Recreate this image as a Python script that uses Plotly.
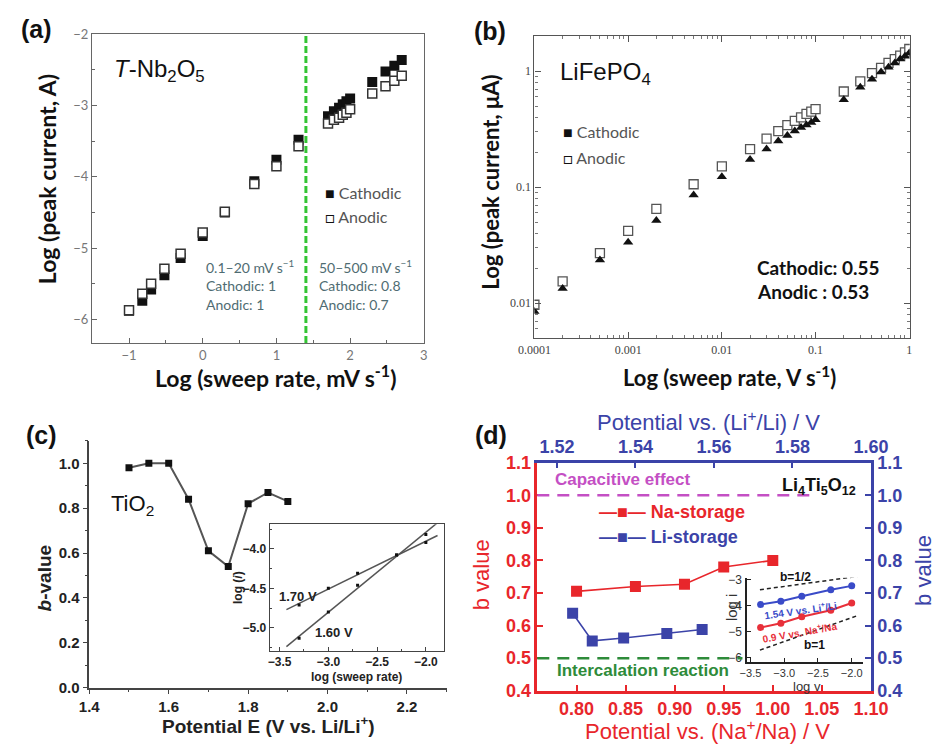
import numpy as np
import plotly.graph_objects as go

W, H = 948, 753

# ---------------- (a) T-Nb2O5 ----------------
nb_log_rate = [-1.0, -0.82, -0.70, -0.52, -0.30, 0.0, 0.30, 0.70, 1.0, 1.30,
               1.70, 1.78, 1.85, 1.90, 1.95, 2.0, 2.30, 2.48, 2.60, 2.70]
nb_cathodic = [-5.88, -5.74, -5.58, -5.38, -5.14, -4.83, -4.50, -4.06, -3.76, -3.48,
               -3.15, -3.08, -3.03, -2.98, -2.94, -2.90, -2.67, -2.52, -2.44, -2.36]
nb_anodic = [-5.87, -5.64, -5.50, -5.29, -5.08, -4.78, -4.49, -4.10, -3.85, -3.57,
             -3.25, -3.20, -3.17, -3.13, -3.10, -3.05, -2.83, -2.73, -2.65, -2.58]
nb_boundary = 1.4  # log10(25 mV/s)

# ---------------- (b) LiFePO4 ----------------
lfp_rate = [0.0001, 0.0002, 0.0005, 0.001, 0.002, 0.005, 0.01, 0.02, 0.03, 0.04,
            0.05, 0.06, 0.07, 0.08, 0.09, 0.1, 0.2, 0.3, 0.4, 0.5, 0.6, 0.7, 0.8, 0.9, 1.0]
lfp_cathodic = [0.0085, 0.0134, 0.0236, 0.0336, 0.0517, 0.0854, 0.123, 0.173, 0.213, 0.25,
                0.279, 0.304, 0.326, 0.343, 0.361, 0.38, 0.567, 0.725, 0.851, 0.98,
                1.08, 1.175, 1.27, 1.345, 1.43]
lfp_anodic = [0.0097, 0.0154, 0.027, 0.042, 0.065, 0.106, 0.151, 0.213, 0.262, 0.304,
              0.343, 0.373, 0.40, 0.428, 0.447, 0.471, 0.667, 0.814, 0.962, 1.067,
              1.175, 1.27, 1.36, 1.45, 1.55]

# ---------------- (c) TiO2 ----------------
tio2_potential = [1.50, 1.55, 1.60, 1.65, 1.70, 1.75, 1.80, 1.85, 1.90]
tio2_b = [0.98, 1.00, 1.00, 0.84, 0.61, 0.54, 0.82, 0.87, 0.83]
tio2_log_rate = [-3.3, -3.0, -2.7, -2.3, -2.0]
tio2_log_i_170 = [-4.71, -4.50, -4.31, -4.08, -3.92]
tio2_log_i_160 = [-5.13, -4.80, -4.46, -4.08, -3.82]
tio2_fit_span = [-3.43, -1.88]

# ---------------- (d) Li4Ti5O12 ----------------
na_potential = [0.80, 0.86, 0.91, 0.95, 1.00]
na_b = [0.705, 0.72, 0.727, 0.78, 0.80]
li_potential = [1.524, 1.529, 1.537, 1.548, 1.557]
li_b = [0.638, 0.553, 0.562, 0.576, 0.588]
b_capacitive = 1.0
b_intercalation = 0.5
lto_log_v = [-3.35, -3.05, -2.74, -2.31, -2.0]
lto_li_log_i = [-3.97, -3.84, -3.65, -3.40, -3.25]
lto_na_log_i = [-4.85, -4.69, -4.44, -4.19, -3.91]
guide_x = [-3.36, -1.9]
guide_half_y = [-3.40, -2.88]
guide_one_y = [-5.72, -4.38]

RED = "#e8262b"
BLUE = "#3b43a8"
MAGENTA = "#c44fc4"
GREEN = "#2e8b3a"
ARIAL = "Arial, Liberation Sans, sans-serif"
LATO = "Lato, Open Sans, sans-serif"
SERIF = "Liberation Serif, Times New Roman, serif"


def dom_x(a, b):
    return [a / W, b / W]


def dom_y(top, bottom):
    return [1 - bottom / H, 1 - top / H]


def px(x):
    return x / W


def py(y):
    return 1 - y / H


fig = go.Figure()

# (a)
fig.add_trace(go.Scatter(x=nb_log_rate, y=nb_cathodic, mode="markers", xaxis="x", yaxis="y",
                         marker=dict(symbol="square", size=10, color="#111")))
fig.add_trace(go.Scatter(x=nb_log_rate, y=nb_anodic, mode="markers", xaxis="x", yaxis="y",
                         marker=dict(symbol="square", size=9, color="white",
                                     line=dict(color="#333", width=1.5))))

# (b)
fig.add_trace(go.Scatter(x=lfp_rate, y=lfp_anodic, mode="markers", xaxis="x2", yaxis="y2",
                         marker=dict(symbol="square", size=9, color="white",
                                     line=dict(color="#555", width=1.3))))
fig.add_trace(go.Scatter(x=lfp_rate, y=lfp_cathodic, mode="markers", xaxis="x2", yaxis="y2",
                         marker=dict(symbol="triangle-up", size=9, color="#111")))

# (c)
fig.add_trace(go.Scatter(x=tio2_potential, y=tio2_b, mode="lines+markers", xaxis="x3", yaxis="y3",
                         line=dict(color="#555", width=2),
                         marker=dict(symbol="square", size=7, color="#111")))
for series in (tio2_log_i_170, tio2_log_i_160):
    slope, icpt = np.polyfit(tio2_log_rate, series, 1)
    fx = np.array(tio2_fit_span)
    fig.add_trace(go.Scatter(x=fx, y=slope * fx + icpt, mode="lines", xaxis="x4", yaxis="y4",
                             line=dict(color="#555", width=1.5)))
    fig.add_trace(go.Scatter(x=tio2_log_rate, y=series, mode="markers", xaxis="x4", yaxis="y4",
                             marker=dict(symbol="square", size=3, color="#111")))

# (d)
fig.add_trace(go.Scatter(x=na_potential, y=na_b, mode="lines+markers", xaxis="x5", yaxis="y5",
                         line=dict(color=RED, width=1.6),
                         marker=dict(symbol="square", size=11, color=RED)))
fig.add_trace(go.Scatter(x=li_potential, y=li_b, mode="lines+markers", xaxis="x6", yaxis="y6",
                         line=dict(color=BLUE, width=1.6),
                         marker=dict(symbol="square", size=11, color=BLUE)))
for gy in (guide_half_y, guide_one_y):
    fig.add_trace(go.Scatter(x=guide_x, y=gy, mode="lines", xaxis="x7", yaxis="y7",
                             line=dict(color="#222", width=1.5, dash="4px,3px")))
fig.add_trace(go.Scatter(x=lto_log_v, y=lto_li_log_i, mode="lines+markers", xaxis="x7", yaxis="y7",
                         line=dict(color="#3a4bc8", width=2),
                         marker=dict(symbol="circle", size=7, color="#3a4bc8")))
fig.add_trace(go.Scatter(x=lto_log_v, y=lto_na_log_i, mode="lines+markers", xaxis="x7", yaxis="y7",
                         line=dict(color="#e8303a", width=2),
                         marker=dict(symbol="circle", size=7, color="#e8303a")))

common = dict(showgrid=False, zeroline=False)

layout_axes = dict(
    # (a)
    xaxis=dict(domain=dom_x(79, 423), range=[-1.5, 3], anchor="y", dtick=1, tick0=0,
               showline=True, linecolor="#666", linewidth=1.3, mirror=True,
               ticks="inside", ticklen=5, tickcolor="#666",
               minor=dict(ticks="inside", dtick=0.5, ticklen=3, tickcolor="#666"),
               tickfont=dict(family=LATO, size=13, color="#777"), **common),
    yaxis=dict(domain=dom_y(25, 342), range=[-6.33, -2], anchor="x", dtick=1, tick0=0,
               showline=True, linecolor="#666", linewidth=1.3, mirror=True,
               ticks="inside", ticklen=5, tickcolor="#666",
               minor=dict(ticks="inside", dtick=0.5, ticklen=3, tickcolor="#666"),
               tickfont=dict(family=LATO, size=13, color="#777"), **common),
    # (b)
    xaxis2=dict(type="log", domain=dom_x(537.7, 927), range=[-4, 0.005], anchor="y2",
                tickvals=[1e-4, 1e-3, 1e-2, 1e-1, 1],
                ticktext=["0.0001", "0.001", "0.01", "0.1", "1"],
                showline=True, linecolor="#555", linewidth=1.2, mirror="allticks",
                ticks="inside", ticklen=6, tickcolor="#555",
                minor=dict(ticks="inside", ticklen=3, tickcolor="#777",
                           tickvals=[k * 10.0 ** e for e in range(-4, 0) for k in range(2, 10)]),
                tickfont=dict(family=SERIF, size=12, color="#444"), **common),
    yaxis2=dict(type="log", domain=dom_y(27, 337), range=[-2.3, 0.3], anchor="x2",
                tickvals=[0.01, 0.1, 1], ticktext=["0.01", "0.1", "1"],
                showline=True, linecolor="#555", linewidth=1.2, mirror="allticks",
                ticks="inside", ticklen=6, tickcolor="#555",
                minor=dict(ticks="inside", ticklen=3, tickcolor="#777",
                           tickvals=[k * 10.0 ** e for e in range(-3, 1) for k in range(2, 10)]),
                tickfont=dict(family=SERIF, size=12, color="#444"), **common),
    # (c)
    xaxis3=dict(domain=dom_x(76, 446.7), range=[1.4, 2.3], anchor="y3", dtick=0.2, tick0=0,
                tickformat=".1f", showline=True, linecolor="#444", linewidth=1.5,
                ticks="outside", ticklen=5, tickcolor="#444",
                minor=dict(ticks="outside", dtick=0.1, ticklen=3, tickcolor="#444"),
                tickfont=dict(family=ARIAL, size=15, color="#222", weight="bold"), **common),
    yaxis3=dict(domain=dom_y(442.7, 696), range=[0, 1.1], anchor="x3", dtick=0.2, tick0=0,
                tickformat=".1f", showline=True, linecolor="#444", linewidth=1.5,
                ticks="outside", ticklen=5, tickcolor="#444",
                minor=dict(ticks="outside", dtick=0.1, ticklen=3, tickcolor="#444"),
                tickfont=dict(family=ARIAL, size=15, color="#222", weight="bold"), **common),
    xaxis4=dict(domain=dom_x(263.3, 444.3), range=[-3.6, -1.81], anchor="y4", dtick=0.5, tick0=0,
                tickformat=".1f", showline=True, linecolor="#444", linewidth=1.3, mirror=True,
                ticks="inside", ticklen=4, tickcolor="#444",
                minor=dict(ticks="inside", dtick=0.25, ticklen=2, tickcolor="#444"),
                tickfont=dict(family=ARIAL, size=12, color="#222", weight="bold"), **common),
    yaxis4=dict(domain=dom_y(528.3, 658.3), range=[-5.29, -3.69], anchor="x4", dtick=0.5, tick0=0,
                tickformat=".1f", showline=True, linecolor="#444", linewidth=1.3, mirror=True,
                ticks="inside", ticklen=4, tickcolor="#444",
                minor=dict(ticks="inside", dtick=0.25, ticklen=2, tickcolor="#444"),
                tickfont=dict(family=ARIAL, size=12, color="#222", weight="bold"), **common),
    # (d)
    xaxis5=dict(domain=dom_x(540.7, 886.7), range=[0.76, 1.10], anchor="y5", dtick=0.05, tick0=0,
                tickformat=".2f", showline=True, linecolor=RED, linewidth=2.5,
                ticks="inside", ticklen=6, tickcolor=RED, tickwidth=2,
                tickfont=dict(family=ARIAL, size=18, color=RED, weight="bold"), **common),
    yaxis5=dict(domain=dom_y(465, 699.3), range=[0.4, 1.1], anchor="x5", dtick=0.1, tick0=0,
                tickformat=".1f", showline=True, linecolor=RED, linewidth=2.5,
                ticks="inside", ticklen=6, tickcolor=RED, tickwidth=2,
                tickfont=dict(family=ARIAL, size=18, color=RED, weight="bold"), **common),
    xaxis6=dict(overlaying="x5", side="top", anchor="y5", range=[1.515, 1.60], dtick=0.02, tick0=0,
                tickformat=".2f", showline=True, linecolor=BLUE, linewidth=2.5,
                ticks="inside", ticklen=6, tickcolor=BLUE, tickwidth=2,
                tickfont=dict(family=ARIAL, size=18, color=BLUE, weight="bold"), **common),
    yaxis6=dict(overlaying="y5", side="right", anchor="x5", range=[0.4, 1.1], dtick=0.1, tick0=0,
                tickformat=".1f", showline=True, linecolor=BLUE, linewidth=2.5,
                ticks="inside", ticklen=6, tickcolor=BLUE, tickwidth=2,
                tickfont=dict(family=ARIAL, size=18, color=BLUE, weight="bold"), **common),
    xaxis7=dict(domain=dom_x(758.3, 878), range=[-3.55, -1.84], anchor="y7", dtick=0.5, tick0=0,
                tickformat=".1f", showline=True, linecolor="#222", linewidth=1.5,
                ticks="inside", ticklen=4, tickcolor="#222", ticklabelstandoff=1,
                tickfont=dict(family=ARIAL, size=11, color="#333"), **common),
    yaxis7=dict(domain=dom_y(583.3, 669.3), range=[-6.16, -2.94], anchor="x7", dtick=1, tick0=0,
                showline=True, linecolor="#222", linewidth=1.5,
                ticks="inside", ticklen=4, tickcolor="#222", ticklabelstandoff=1,
                tickfont=dict(family=ARIAL, size=12, color="#333"), **common),
)

shapes = [
    dict(type="line", xref="x", yref="y domain", x0=nb_boundary, x1=nb_boundary, y0=0, y1=1,
         line=dict(color="#33c433", width=3, dash="7px,3px")),
    dict(type="line", xref="x5 domain", yref="y5", x0=0, x1=0.83, y0=b_capacitive, y1=b_capacitive,
         line=dict(color=MAGENTA, width=2.5, dash="12px,8px")),
    dict(type="line", xref="x5 domain", yref="y5", x0=0, x1=0.615, y0=b_intercalation, y1=b_intercalation,
         line=dict(color=GREEN, width=2.5, dash="12px,8px")),
]


def note(text, x, y, size, color="#111", family=ARIAL, xanchor="left", angle=0):
    return dict(text=text, x=px(x), y=py(y), xref="paper", yref="paper", showarrow=False,
                xanchor=xanchor, yanchor="middle", textangle=angle,
                font=dict(family=family, size=size, color=color))


TEAL = "#4f6c72"
annotations = [
    # panel letters
    note("<b>(a)</b>", 3, 20, 25), note("<b>(b)</b>", 473, 22, 25),
    note("<b>(c)</b>", 8, 437, 25), note("<b>(d)</b>", 474, 437, 25),
    # (a)
    note("<i>T</i>-Nb<sub>2</sub>O<sub>5</sub>", 100, 62, 24),
    note("<span style='color:#111'>■</span> Cathodic", 318, 187, 16, "#555", LATO),
    note("<span style='color:#111'>□</span> Anodic", 318, 212, 16, "#555", LATO),
    note("0.1–20 mV s<sup>−1</sup>", 195, 263, 14, TEAL, LATO),
    note("Cathodic: 1", 195, 283, 14, TEAL, LATO),
    note("Anodic: 1", 195, 303, 14, TEAL, LATO),
    note("50–500 mV s<sup>−1</sup>", 312, 263, 14, TEAL, LATO),
    note("Cathodic: 0.8", 312, 283, 14, TEAL, LATO),
    note("Anodic: 0.7", 312, 303, 14, TEAL, LATO),
    note("<b>Log (peak current, A)</b>", 33, 174, 23, "#111", LATO, "center", -90),
    note("<b>Log (sweep rate, mV s<sup>-1</sup>)</b>", 270, 376, 23, "#111", LATO, "center"),
    # (b)
    note("LiFePO<sub>4</sub>", 562, 65, 24),
    note("<span style='color:#111'>■</span> Cathodic", 565, 125, 16, "#555", LATO),
    note("<span style='color:#111'>□</span> Anodic", 565, 152, 16, "#555", LATO),
    note("<b>Cathodic: 0.55</b>", 767, 265, 19, "#111", LATO),
    note("<b>Anodic : 0.53</b>", 767, 289, 19, "#111", LATO),
    note("<b>Log (peak current, μA)</b>", 492, 177, 22, "#111", LATO, "center", -90),
    note("<b>Log (sweep rate, V s<sup>-1</sup>)</b>", 740, 376, 22, "#111", LATO, "center"),
    # (c)
    note("TiO<sub>2</sub>", 96, 508, 22),
    note("<b><i>b</i>-value</b>", 30, 583, 19, "#222", ARIAL, "center", -90),
    note("<b>Potential E (V vs. Li/Li<sup>+</sup>)</b>", 262, 735, 19, "#222", ARIAL, "center"),
    note("<b>1.70 V</b>", 271, 602, 13, "#222"),
    note("<b>1.60 V</b>", 308, 639, 13, "#222"),
    note("<b>log (<i>i</i>)</b>", 230, 593, 12, "#222", ARIAL, "center", -90),
    note("<b>log (sweep rate)</b>", 353, 685, 12, "#222", ARIAL, "center"),
    # (d)
    note("<b>Capacitive effect</b>", 557, 482, 17, MAGENTA),
    note("<b>Intercalation reaction</b>", 559, 679, 17, GREEN),
    note("<b>Li<sub>4</sub>Ti<sub>5</sub>O<sub>12</sub></b>", 792, 489, 18, "#111"),
    note("<b>—■— Na-storage</b>", 603, 516, 18, RED),
    note("<b>—■— Li-storage</b>", 603, 541, 18, BLUE),
    note("b value", 483, 580, 22, RED, ARIAL, "center", -90),
    note("b value", 941, 576, 22, BLUE, ARIAL, "center", -90),
    note("Potential vs. (Li<sup>+</sup>/Li) / V", 718, 422, 22, BLUE, ARIAL, "center"),
    note("Potential vs. (Na<sup>+</sup>/Na) / V", 717, 740, 22, RED, ARIAL, "center"),
    note("<b>b=1/2</b>", 808, 582, 12, "#111", ARIAL, "center"),
    note("<b>b=1</b>", 828, 652, 12, "#111", ARIAL, "center"),
    note("<b>1.54 V vs. Li<sup>+</sup>/Li</b>", 814, 616, 10, "#3a4bc8", ARIAL, "center", -8),
    note("<b>0.9 V vs. Na<sup>+</sup>/Na</b>", 813, 639, 10, "#e8303a", ARIAL, "center", -10),
    note("log i", 742, 613, 15, "#333", ARIAL, "center", -90),
    note("log v", 820, 695, 13, "#333", ARIAL, "center"),
]

fig.update_layout(
    width=W, height=H, margin=dict(l=0, r=0, t=0, b=0),
    paper_bgcolor="white", plot_bgcolor="white", showlegend=False,
    shapes=shapes, annotations=annotations, **layout_axes,
)

fig.write_html("out.html")
